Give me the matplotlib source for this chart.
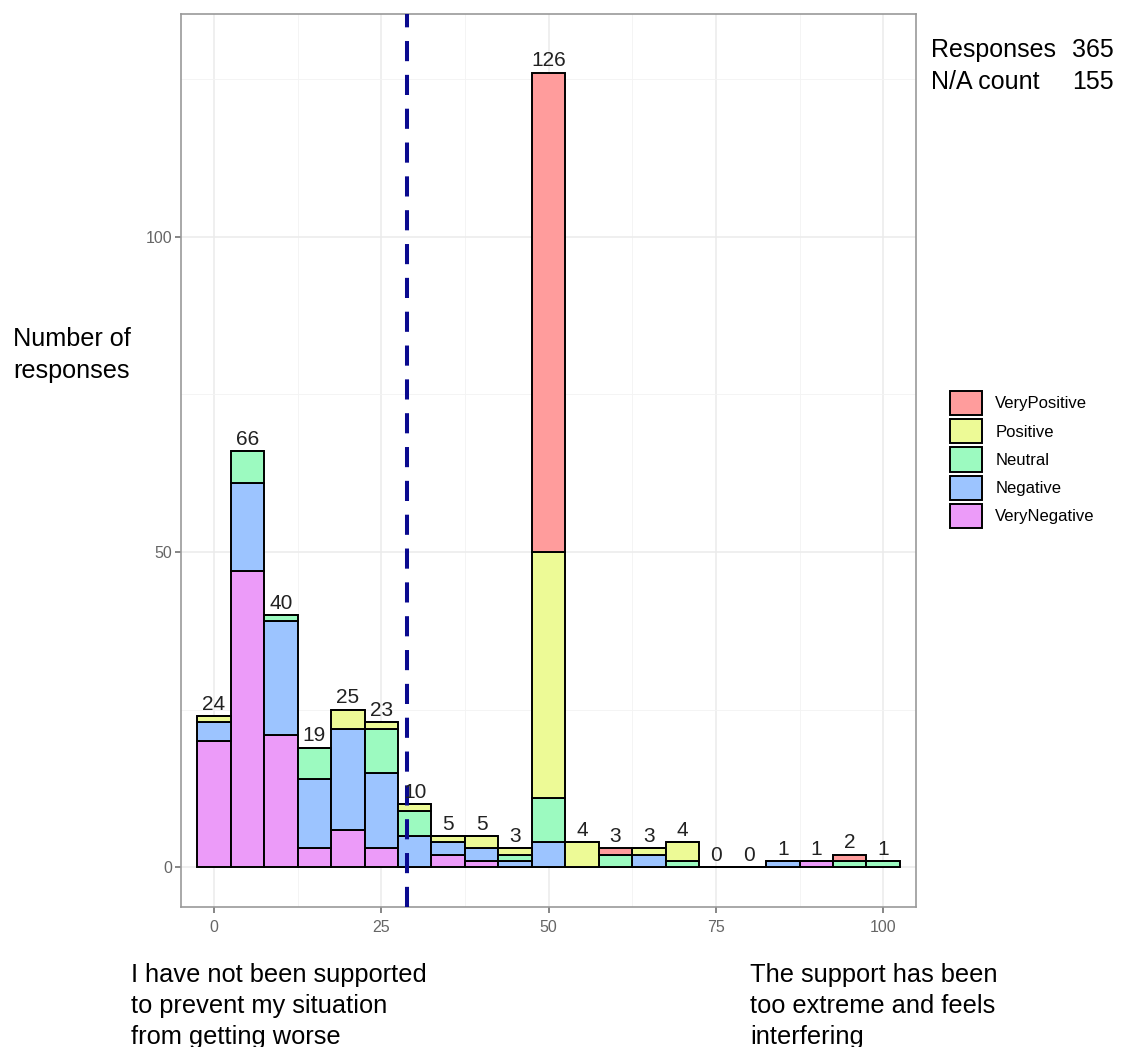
import matplotlib
matplotlib.use("Agg")
import matplotlib.pyplot as plt
from matplotlib.patches import Patch
import numpy as np

plt.rcParams['font.family'] = ['Liberation Sans', 'DejaVu Sans']

bins = [0, 5, 10, 15, 20, 25, 30, 35, 40, 45, 50, 55, 60, 65, 70, 75, 80, 85, 90, 95, 100]
very_negative = [20, 47, 21, 3, 6, 3, 0, 2, 1, 0, 0, 0, 0, 0, 0, 0, 0, 0, 1, 0, 0]
negative      = [3, 14, 18, 11, 16, 12, 5, 2, 2, 1, 4, 0, 0, 2, 0, 0, 0, 1, 0, 0, 0]
neutral       = [0, 5, 1, 5, 0, 7, 4, 0, 0, 1, 7, 0, 2, 0, 1, 0, 0, 0, 0, 1, 1]
positive      = [1, 0, 0, 0, 3, 1, 1, 1, 2, 1, 39, 4, 0, 1, 3, 0, 0, 0, 0, 0, 0]
very_positive = [0, 0, 0, 0, 0, 0, 0, 0, 0, 0, 76, 0, 1, 0, 0, 0, 0, 0, 0, 1, 0]
categories = ["VeryNegative", "Negative", "Neutral", "Positive", "VeryPositive"]
colors = ["#EC9BF9", "#9CC4FF", "#9CFAC0", "#EDFA96", "#FF9C9C"]
mean_line = 28.8
responses = 365
na_count = 155
y_caption = ["Number of", "responses"]
left_caption = ["I have not been supported", "to prevent my situation", "from getting worse"]
right_caption = ["The support has been", "too extreme and feels", "interfering"]

W, H = 1122, 1047
fig = plt.figure(figsize=(W / 100, H / 100), dpi=100)
ax = fig.add_axes([181 / W, 1 - 907 / H, (916 - 181) / W, (907 - 14) / H])

series = [very_negative, negative, neutral, positive, very_positive]
bottom = np.zeros(len(bins))
for vals, col, lab in zip(series, colors, categories):
    v = np.array(vals, dtype=float)
    ax.bar(bins, v, width=5, bottom=bottom, color=col, edgecolor="black",
           linewidth=1.4, label=lab, zorder=3)
    bottom += v

for x, t in zip(bins, bottom):
    ax.text(x, t + 1.0, f"{int(t)}", ha="center", va="baseline", fontsize=15,
            color="#222222", zorder=5)

ax.axvline(mean_line, color="#0A0A8F", linewidth=2.9, linestyle=(0, (5, 3.4)), zorder=4)

ax.set_xlim(-4.93, 104.9)
ax.set_ylim(-6.28, 135.3)
ax.set_xticks([0, 25, 50, 75, 100])
ax.set_yticks([0, 50, 100])
ax.set_xticks([12.5, 37.5, 62.5, 87.5], minor=True)
ax.set_yticks([25, 75, 125], minor=True)
ax.grid(True, which="major", color="#EBEBEB", linewidth=1.1, zorder=0)
ax.grid(True, which="minor", color="#F3F3F3", linewidth=0.6, zorder=0)
ax.tick_params(axis="both", which="major", labelsize=11.5, labelcolor="#666666",
               color="#666666", length=4.5, width=1.1)
ax.tick_params(axis="y", which="major", pad=2)
ax.tick_params(axis="x", which="major", pad=5)
ax.tick_params(axis="both", which="minor", length=0)
for s in ax.spines.values():
    s.set_color("#999999")
    s.set_linewidth(1.2)
ax.set_axisbelow(True)

handles = [Patch(facecolor=c, edgecolor="black", linewidth=1.4, label=l)
           for c, l in zip(colors[::-1], categories[::-1])]
fig.legend(handles=handles, loc="upper left", bbox_to_anchor=(950 / W, 1 - 391 / H),
           frameon=False, fontsize=12, handlelength=1.92, handleheight=1.86,
           labelspacing=0.24, handletextpad=0.8, borderaxespad=0, borderpad=0)

for i, line in enumerate(y_caption):
    fig.text(13 / W, 1 - (346 + 32 * i) / H, line, fontsize=18.2, ha="left", va="baseline")
fig.text(931 / W, 1 - 57 / H, "Responses", fontsize=18, ha="left", va="baseline")
fig.text(931 / W, 1 - 89 / H, "N/A count", fontsize=18, ha="left", va="baseline")
fig.text(1072 / W, 1 - 57 / H, f"{responses}", fontsize=18, ha="left", va="baseline")
fig.text(1072 / W, 1 - 89 / H, f"{na_count}", fontsize=18, ha="left", va="baseline")
for i, line in enumerate(left_caption):
    fig.text(131 / W, 1 - (982 + 31 * i) / H, line, fontsize=18.3, ha="left", va="baseline")
for i, line in enumerate(right_caption):
    fig.text(750 / W, 1 - (982 + 31 * i) / H, line, fontsize=18.3, ha="left", va="baseline")

fig.savefig("out.png", dpi=100)
